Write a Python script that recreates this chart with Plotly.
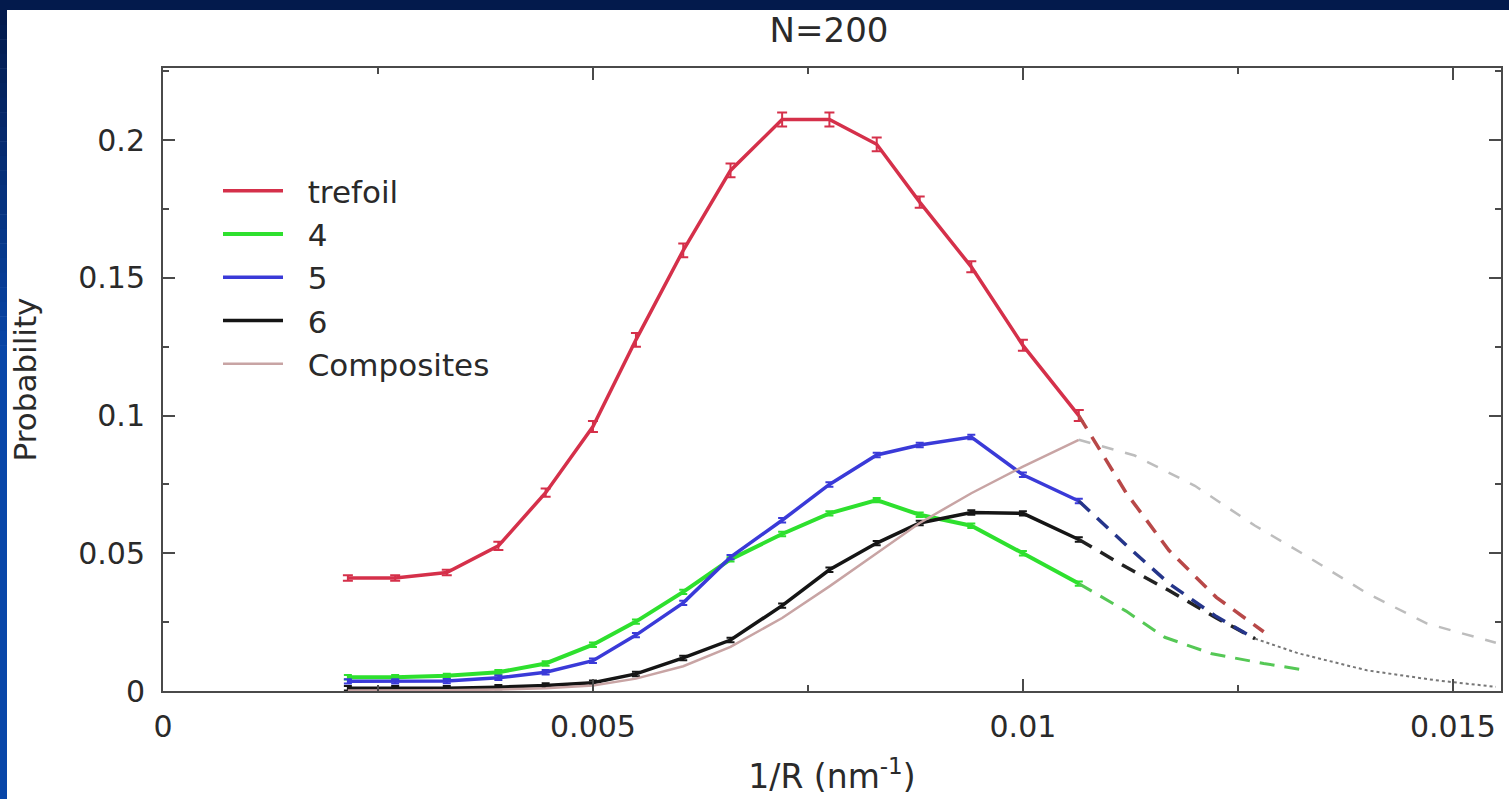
import plotly.graph_objects as go

# ---------------- data ----------------
x_solid = [0.00215, 0.0027, 0.0033, 0.0039, 0.00445, 0.005, 0.0055, 0.00605,
           0.0066, 0.0072, 0.00775, 0.0083, 0.0088, 0.0094, 0.0100, 0.01065]

trefoil = [0.0410, 0.0410, 0.0430, 0.0527, 0.0720, 0.0960, 0.1275, 0.1600,
           0.1890, 0.2075, 0.2075, 0.1985, 0.1775, 0.1540, 0.1255, 0.1000]
knot4 = [0.0050, 0.0050, 0.0055, 0.0068, 0.0100, 0.0168, 0.0252, 0.0360,
         0.0478, 0.0570, 0.0645, 0.0693, 0.0640, 0.0600, 0.0500, 0.0390]
knot5 = [0.0035, 0.0035, 0.0036, 0.0048, 0.0068, 0.0110, 0.0203, 0.0320,
         0.0486, 0.0620, 0.0750, 0.0857, 0.0893, 0.0922, 0.0785, 0.0690]
knot6 = [0.0010, 0.0010, 0.0010, 0.0014, 0.0020, 0.0030, 0.0062, 0.0120,
         0.0185, 0.0310, 0.0440, 0.0537, 0.0610, 0.0648, 0.0645, 0.0550]
composites = [0.0002, 0.0002, 0.0003, 0.0005, 0.0010, 0.0020, 0.0045, 0.0090,
              0.0160, 0.0265, 0.0380, 0.0500, 0.0610, 0.0718, 0.0815, 0.0912]

err_trefoil = [0.0010, 0.0010, 0.0010, 0.0015, 0.0015, 0.0020, 0.0025, 0.0025,
               0.0025, 0.0025, 0.0025, 0.0025, 0.0020, 0.0020, 0.0020, 0.0020]
err_small = [0.0008] * 16

# dashed extrapolations
x_tref_ext = [0.01065, 0.0112, 0.0117, 0.01225, 0.0128]
trefoil_ext = [0.1000, 0.0720, 0.0510, 0.0340, 0.0215]
x_k4_ext = [0.01065, 0.0112, 0.01165, 0.0122, 0.0128, 0.0133]
knot4_ext = [0.0390, 0.0290, 0.0195, 0.0135, 0.0100, 0.0075]
x_k5_ext = [0.01065, 0.0112, 0.0117, 0.01225, 0.0127]
knot5_ext = [0.0690, 0.0530, 0.0390, 0.0270, 0.0190]
x_k6_ext = [0.01065, 0.0112, 0.0117, 0.01225, 0.0127]
knot6_ext = [0.0550, 0.0450, 0.0365, 0.0265, 0.0190]
x_tail = [0.0127, 0.0132, 0.0140, 0.0148, 0.0155]
tail = [0.0190, 0.0137, 0.0075, 0.0039, 0.0015]
x_comp_ext = [0.01065, 0.0113, 0.0120, 0.0127, 0.0133, 0.0140, 0.0147, 0.0155]
comp_ext = [0.0912, 0.0855, 0.0745, 0.0600, 0.0490, 0.0355, 0.0245, 0.0175]

x_tickvals = [0, 0.005, 0.01, 0.015]
x_ticktext = ["0", "0.005", "0.01", "0.015"]
y_tickvals = [0, 0.05, 0.1, 0.15, 0.2]
y_ticktext = ["0", "0.05", "0.1", "0.15", "0.2"]

# ---------------- layout geometry ----------------
W, H = 1509, 799
L, R, T, B = 163, 8, 68, 108
PW, PH = W - L - R, H - T - B
FONT = "DejaVu Sans"
TXT = "#2a2a2a"
GAP = "\u00a0\u00a0"  # visual gap between legend line and label


def px(xp):
    return (xp - L) / PW


def py(yp):
    return (H - B - yp) / PH


fig = go.Figure()

# solid traces (legend)
fig.add_trace(go.Scatter(x=x_solid, y=trefoil, mode="lines", name=GAP + "trefoil",
                         line=dict(color="#d5304a", width=3.5),
                         error_y=dict(type="data", array=err_trefoil, color="#d5304a",
                                      thickness=2, width=5)))
fig.add_trace(go.Scatter(x=x_solid, y=knot4, mode="lines", name=GAP + "4",
                         line=dict(color="#2ee02e", width=4),
                         error_y=dict(type="data", array=err_small, color="#2ee02e",
                                      thickness=2, width=4)))
fig.add_trace(go.Scatter(x=x_solid, y=knot5, mode="lines", name=GAP + "5",
                         line=dict(color="#3a3ad8", width=3.5),
                         error_y=dict(type="data", array=err_small, color="#3a3ad8",
                                      thickness=2, width=4)))
fig.add_trace(go.Scatter(x=x_solid, y=knot6, mode="lines", name=GAP + "6",
                         line=dict(color="#151515", width=3.5),
                         error_y=dict(type="data", array=err_small, color="#151515",
                                      thickness=2, width=4)))
fig.add_trace(go.Scatter(x=x_solid, y=composites, mode="lines", name=GAP + "Composites",
                         line=dict(color="#c8a4a4", width=2.5)))

# dashed extensions (no legend)
fig.add_trace(go.Scatter(x=x_comp_ext, y=comp_ext, mode="lines", showlegend=False,
                         line=dict(color="#bdbdbd", width=2.5, dash="12px,12px")))
fig.add_trace(go.Scatter(x=x_tail, y=tail, mode="lines", showlegend=False,
                         line=dict(color="#777777", width=2, dash="dot")))
fig.add_trace(go.Scatter(x=x_k4_ext, y=knot4_ext, mode="lines", showlegend=False,
                         line=dict(color="#55c855", width=3, dash="15px,10px")))
fig.add_trace(go.Scatter(x=x_k6_ext, y=knot6_ext, mode="lines", showlegend=False,
                         line=dict(color="#222222", width=3.5, dash="15px,10px")))
fig.add_trace(go.Scatter(x=x_k5_ext, y=knot5_ext, mode="lines", showlegend=False,
                         line=dict(color="#25358a", width=3.5, dash="15px,10px")))
fig.add_trace(go.Scatter(x=x_tref_ext, y=trefoil_ext, mode="lines", showlegend=False,
                         line=dict(color="#b84848", width=3.5, dash="15px,10px")))

axis_common = dict(
    showline=True, linecolor="#4a4a4a", linewidth=2, mirror="allticks",
    ticks="inside", ticklen=12, tickwidth=2, tickcolor="#4a4a4a",
    showgrid=False, zeroline=False,
    tickfont=dict(family=FONT, size=30, color=TXT),
    minor=dict(ticks="inside", ticklen=6, tickwidth=2, tickcolor="#4a4a4a", showgrid=False),
)

fig.update_xaxes(range=[0, 0.01556], tickmode="array", tickvals=x_tickvals,
                 ticktext=x_ticktext, minor_dtick=0.0025, minor_tick0=0,
                 ticklabelstandoff=8,
                 title=dict(text="1/R (nm<sup>-1</sup>)", standoff=22,
                            font=dict(family=FONT, size=33, color=TXT)),
                 **axis_common)
fig.update_yaxes(range=[0, 0.2262], tickmode="array", tickvals=y_tickvals,
                 ticktext=y_ticktext, minor_dtick=0.025, minor_tick0=0,
                 ticklabelstandoff=10,
                 title=dict(text="Probability", standoff=32,
                            font=dict(family=FONT, size=31, color=TXT)),
                 **axis_common)

# dark blue frame around the white page
shapes = []
shapes.append(dict(type="rect", xref="paper", yref="paper",
                   x0=px(0), x1=px(W), y0=py(10), y1=py(0),
                   fillcolor="#031a4c", line=dict(width=0), layer="above"))
top_rgb = (3, 26, 76)
bot_rgb = (8, 70, 168)
nseg = 24
y_start, y_end = 10, 360
for i in range(nseg):
    t = i / (nseg - 1)
    c = tuple(int(round(a + (b - a) * t)) for a, b in zip(top_rgb, bot_rgb))
    ya = y_start + (y_end - y_start) * i / nseg
    yb = y_start + (y_end - y_start) * (i + 1) / nseg + 0.5
    shapes.append(dict(type="rect", xref="paper", yref="paper",
                       x0=px(0), x1=px(7), y0=py(yb), y1=py(ya),
                       fillcolor="rgb(%d,%d,%d)" % c, line=dict(width=0), layer="above"))
shapes.append(dict(type="rect", xref="paper", yref="paper",
                   x0=px(0), x1=px(7), y0=py(H), y1=py(y_end),
                   fillcolor="rgb(%d,%d,%d)" % bot_rgb, line=dict(width=0), layer="above"))

fig.update_layout(
    width=W, height=H,
    margin=dict(l=L, r=R, t=T, b=B, autoexpand=False),
    paper_bgcolor="white", plot_bgcolor="white",
    title=dict(text="N=200", x=px(829), xref="paper", xanchor="center",
               y=1 - 30 / H, yref="container", yanchor="middle",
               font=dict(family=FONT, size=34, color=TXT)),
    legend=dict(x=px(218), y=py(164), xanchor="left", yanchor="top",
                bgcolor="rgba(0,0,0,0)", borderwidth=0,
                font=dict(family=FONT, size=31, color=TXT),
                itemwidth=60, tracegroupgap=0),
    shapes=shapes,
    showlegend=True,
)

fig.write_html(
    "out.html",
    config={"displayModeBar": False},
    post_script="document.body.style.margin='0px';document.body.style.overflow='hidden';",
)
